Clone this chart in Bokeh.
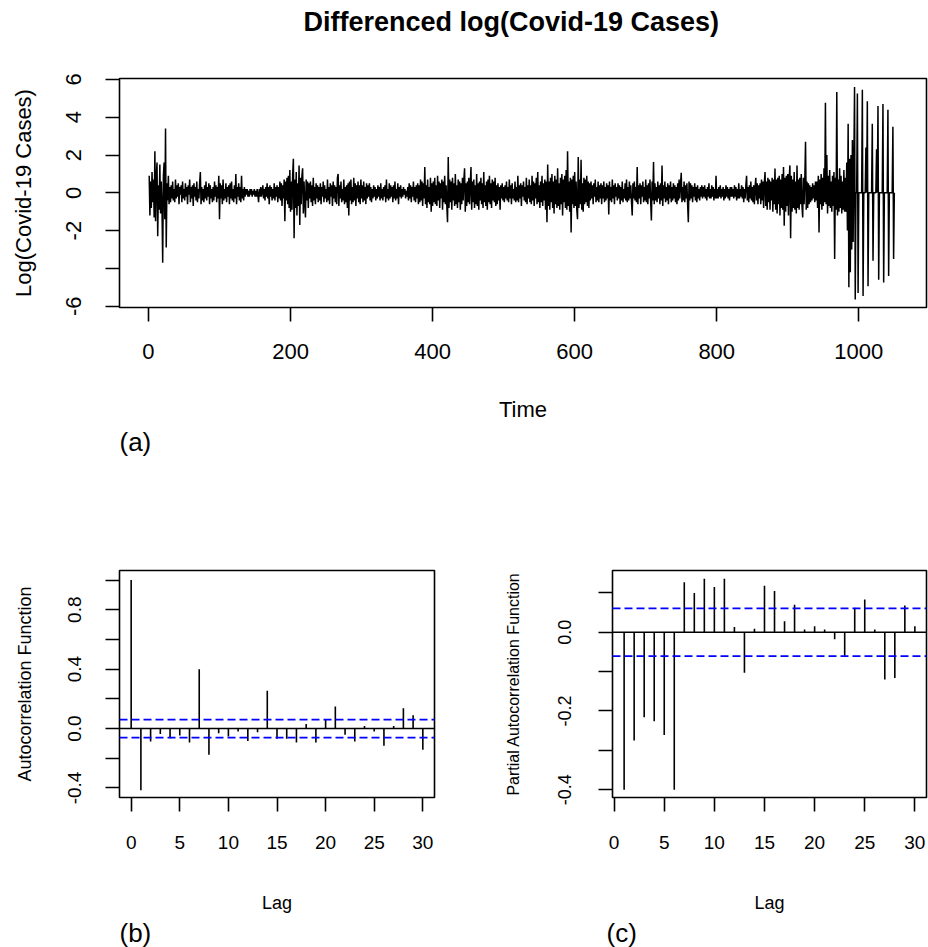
from bokeh.plotting import figure
from bokeh.models import FixedTicker, Span, Title
from bokeh.layouts import column, row
from bokeh.embed import file_html
from bokeh.resources import INLINE

FONT = "Liberation Sans"

# ---- differenced log(Covid-19 cases) ----
diff_t001_200 = [
    0.9, -1.2, 0.6, -0.8, 1.1, -0.5, 0.7, -1.3, 2.2, -1.5, 0.8, 1.6, -2.3, 0.4, -0.9, 1.5, -1.1, 0.6, -0.7, -3.7,
    0.9, 1.6, -1.4, 3.4, -2.9, 0.5, -0.4, 0.9, -0.6, 0.3, -0.5, 0.4, -0.3, 0.6, -0.4, 0.2, -0.5, 0.7, -0.3, 0.4,
    -0.2, 0.5, -0.6, 0.3, -0.1, 0.4, -0.5, 0.6, -0.3, 0.2, -0.4, 0.5, -0.2, 0.3, -0.6, 0.4, -0.1, 0.7, -0.5, 0.3,
    -0.3, 0.4, -0.7, 0.5, -0.2, 0.3, -0.4, 0.6, -0.5, 0.2, -0.3, 0.5, 1.1, -0.6, 0.3, -0.4, 0.2, -0.5, 0.4, -0.3,
    0.6, -0.4, 0.3, -0.2, 0.5, -0.6, 0.4, -0.3, 0.2, -0.5, 0.3, -0.4, 0.6, -0.2, 0.4, -0.5, 0.3, -0.3, 0.9, -1.4,
    0.5, -0.3, 0.4, -0.6, 0.7, -0.4, 0.2, -0.3, 0.5, -0.5, 0.3, -0.2, 0.4, -0.6, 0.5, -0.3, 0.6, -0.4, 0.2, -0.5,
    0.4, -0.3, 1.0, -0.6, 0.3, -0.2, 0.5, -0.4, 0.3, -0.5, 0.9, -0.3, 0.2, -0.4, 0.3, -0.2, 0.2, -0.1, 0.2, -0.2,
    0.1, -0.2, 0.2, -0.1, 0.2, -0.2, 0.1, -0.1, 0.2, -0.2, 0.1, -0.2, 0.2, -0.1, -0.5, 0.2, -0.2, 0.3, -0.2, 0.1,
    0.4, -0.3, 0.2, -0.4, 0.3, -0.2, 0.5, -0.3, 0.3, -0.6, 0.4, -0.2, 0.3, -0.4, 0.2, -0.3, 0.5, -0.4, 0.3, -0.2,
    0.4, -0.5, 0.3, -0.3, 0.6, -0.4, 0.5, -0.7, 0.4, -0.3, 0.7, -1.5, 0.6, -0.4, 0.8, -0.6, 0.9, -0.8, 1.2, -1.0,
]
diff_t201_400 = [
    0.6, -0.9, 1.0, 1.8, -2.4, 0.7, -0.8, 1.1, -1.2, 0.5, -0.7, 1.45, -1.7, 0.8, -0.6, 0.9, 1.3, -1.1, 0.6, -0.5,
    -1.3, 0.7, -0.4, 0.6, -0.8, 0.5, -0.3, 0.6, -0.5, 0.4, -0.7, 0.8, -0.4, 0.3, -0.6, 0.5, -0.3, 0.4, -0.5, 0.3,
    -0.4, 0.5, -0.6, 0.3, -0.2, 0.6, -0.5, 0.4, -0.3, 0.2, -0.5, 0.7, -0.4, 0.3, -0.6, 0.5, -0.2, 0.4, -0.7, 0.6,
    -0.3, 0.4, -0.5, 0.3, -0.6, 0.8, 1.0, -0.7, 0.4, -0.3, 0.6, -0.5, 0.2, -0.4, 0.7, -0.6, 0.3, -0.5, 0.4, -0.8,
    0.5, -1.2, 0.6, -0.4, 0.7, -0.6, 0.3, -0.5, 0.8, -0.4, 0.5, -0.7, 0.4, -0.3, 0.6, -0.5, 0.4, -0.6, 0.7, -0.3,
    0.4, -0.5, 0.6, -0.4, 0.3, -0.6, 0.5, -0.3, 0.4, -0.2, 0.5, -0.4, 0.3, -0.5, 0.2, -0.3, 0.4, -0.2, 0.3, -0.4,
    0.2, -0.3, 0.4, -0.2, 0.3, -0.4, 0.5, -0.3, 0.2, -0.4, 0.3, -0.2, 0.4, -0.5, 0.7, -0.3, 0.2, -0.4, 0.5, -0.3,
    0.4, -0.2, 0.3, -0.5, 0.4, -0.3, 0.6, -0.4, 0.2, -0.3, 0.5, -0.6, 0.3, -0.2, 0.4, -0.3, 0.2, -0.2, 0.3, -0.1,
    0.2, -0.3, 0.1, -0.2, 0.3, -0.4, 0.5, -0.3, 0.4, -0.5, 0.3, -0.2, 0.6, -0.4, 0.3, -0.5, 0.4, -0.3, 0.5, -0.6,
    0.4, -0.5, 0.7, -0.4, 0.6, -0.7, 0.5, -0.3, 1.36, -0.6, 0.4, -0.8, 0.7, -0.5, 0.3, -0.6, 0.8, -1.0, 0.5, -0.7,
]
diff_t401_600 = [
    0.6, -0.5, 0.8, -0.6, 0.4, -0.7, 0.9, -0.4, 0.6, -0.8, 0.5, -0.3, 0.7, -0.9, 0.6, -0.5, 0.9, -0.6, 0.4, -0.7,
    -1.56, 1.9, -0.8, 0.7, -0.5, 0.6, -0.9, 0.8, -0.4, 0.5, -0.7, 1.0, -0.6, 0.4, -0.8, 0.7, -0.5, 0.6, -0.9, 0.5,
    -0.6, 0.8, -0.4, 0.7, 1.3, -1.0, 0.5, -0.7, 0.6, -0.5, 0.8, -0.6, 0.4, 1.36, -0.9, 0.6, -0.5, 0.7, -0.8, 0.4,
    -0.6, 1.0, -0.7, 0.5, -0.9, 0.6, -0.4, 0.8, -0.6, 0.5, -0.8, 1.1, -0.5, 0.4, -0.7, 0.6, -0.9, 0.7, -0.5, 0.9,
    -0.6, 0.5, -0.8, 0.7, -0.4, 0.6, -0.5, 0.8, -0.7, 0.4, -0.6, 0.5, -0.4, 0.3, -0.9, 0.4, -0.3, 0.5, -0.4, 0.3,
    -0.5, 0.4, -0.3, 0.6, -0.4, 0.3, -0.5, 0.7, -0.3, 0.4, -0.6, 0.5, -0.3, 0.2, -0.4, 0.6, -0.5, 0.3, -0.4, 0.9,
    -0.5, 0.4, -0.3, 0.5, -0.7, 0.4, -0.2, 0.6, -0.4, 0.3, -0.5, 0.8, -0.6, 0.4, -0.3, 0.7, -0.5, 0.4, -0.6, 0.9,
    -0.4, 0.6, -0.7, 0.5, -0.3, 0.8, -0.6, 1.1, -0.5, 0.4, -0.8, 0.6, -0.5, 0.9, -0.7, 0.5, -0.4, 0.7, -0.9, 0.6,
    -1.56, 1.5, -0.7, 0.6, -0.9, 0.8, -0.5, 1.0, -0.8, 0.6, -1.1, 0.9, -0.6, 0.7, -0.8, 1.3, -0.7, 0.5, -0.9, 0.8,
    -0.6, 1.0, -1.2, 0.7, -0.5, 0.9, -0.8, 1.2, -0.9, 2.2, -0.7, 0.6, -1.0, 0.8, -2.1, 0.7, -0.6, 0.9, -0.8, 1.1,
]
diff_t601_800 = [
    -0.7, 0.6, -0.9, -1.4, 1.9, -0.8, 0.7, -0.6, 1.75, -0.9, 0.5, -1.0, 0.8, -0.6, 0.7, -0.5, 0.9, -0.7, 0.6, -0.8,
    0.5, -0.4, 0.6, -0.3, 0.4, -0.6, 0.5, -0.2, 0.7, -0.5, 0.3, -0.4, 0.6, -0.5, 0.4, -0.3, 0.5, -0.6, 0.4, -0.3,
    0.6, -0.5, 0.3, -0.4, 0.5, -0.3, 0.4, -1.15, 0.6, -0.4, 0.3, -0.5, 0.7, -0.3, 0.4, -0.6, 0.5, -0.2, 0.3, -0.4,
    0.5, -0.3, 0.4, -0.6, 0.3, -0.4, 0.6, -0.5, 0.2, -0.3, 0.5, -0.4, 0.7, -0.5, 0.3, -0.4, 0.6, -0.3, 0.4, -0.5,
    -1.2, 0.5, -0.3, 0.6, -0.4, 0.3, -0.5, 1.36, -0.6, 0.4, -0.3, 0.5, -0.6, 0.4, -0.2, 0.6, -0.5, 0.3, -0.4, 0.7,
    -0.5, 0.4, -0.6, 0.5, -0.3, 0.7, -0.5, -1.47, 0.6, -0.4, 1.63, -0.6, 0.5, -0.4, 0.3, -0.5, 0.6, -0.3, 0.4, -0.6,
    0.5, -0.4, 1.45, -0.7, 0.4, -0.3, 0.6, -0.5, 0.3, -0.4, 0.5, -0.6, 0.4, -0.3, 0.6, -0.5, 0.3, -0.4, 0.5, -0.3,
    0.4, -0.5, 0.3, -0.6, 0.5, -0.4, 0.7, -0.3, 0.4, 1.06, -0.5, 0.3, -0.4, 0.6, -0.5, 0.4, -0.3, 0.5, -0.6, -1.56,
    0.6, -0.4, 0.5, -0.3, 0.4, -0.5, 0.3, -0.2, 0.5, -0.4, 0.3, -0.5, 0.4, -0.3, 0.2, -0.4, 0.3, -0.2, 0.4, -0.3,
    0.3, -0.2, 0.4, -0.3, 0.2, -0.4, 0.3, -0.2, 0.5, -0.3, 0.2, -0.3, 0.4, -0.2, 0.3, -0.4, 0.2, -0.3, 0.9, -0.3,
]
diff_t801_1000 = [
    0.2, -0.3, 0.3, -0.2, 0.4, -0.3, 0.2, -0.2, 0.3, -0.4, 0.2, -0.3, 0.4, -0.2, 0.3, -0.3, 0.2, -0.4, 0.3, -0.2,
    0.3, -0.2, 0.2, -0.3, 0.4, -0.2, 0.3, -0.4, 0.2, -0.3, 0.5, -0.3, 0.2, -0.2, 0.4, -0.3, 0.3, -0.5, 0.2, -0.3,
    0.4, 0.9, -0.4, 0.3, -0.5, 0.4, -0.3, 0.6, -0.4, 0.3, -0.5, 0.4, -0.6, 0.3, 0.8, -0.4, 0.5, -0.6, 0.4, -0.3,
    0.5, -0.6, 0.7, -0.4, 0.6, -0.8, 0.5, 1.1, -0.7, 0.6, -0.9, 0.8, -0.5, 0.7, -0.9, 0.6, -0.4, 0.8, -1.0, 0.7,
    -0.6, 1.28, -0.9, 0.7, -1.1, 0.8, -0.6, 0.9, -1.2, 0.7, -0.8, 1.0, -0.9, 1.36, -1.74, 0.8, -1.0, 0.9, -0.7, 1.0,
    -1.2, 0.8, 1.45, -2.4, 0.9, -1.0, 0.7, -0.8, 1.1, -0.9, 0.6, -1.1, 1.45, -0.8, 0.7, -0.9, 0.8, -0.6, 1.0, -0.7,
    -1.3, 0.8, -0.6, 0.7, 2.7, -0.9, 0.6, -0.8, 0.5, -0.6, 0.4, -0.5, 0.3, -0.4, 0.5, -0.3, 0.4, -0.5, 0.6, -0.4,
    0.6, -0.8, 0.9, -2.1, 0.7, -0.6, 1.0, -0.9, 0.8, -0.7, 1.3, -0.5, 4.77, -0.6, 2.0, -1.1, 0.9, -0.7, 1.2, -0.8,
    0.6, -1.0, 0.9, -0.7, 1.1, -3.5, 0.8, -0.9, 5.34, -1.2, 0.7, -1.0, 1.3, -0.8, 0.9, -1.1, 0.6, -0.9, 1.2, -1.0,
    0.8, -1.0, 1.6, -2.0, 3.65, -5.0, 1.8, -4.2, 2.0, -3.0, 2.8, -2.6, 1.5, 5.6, -5.65, 0, 0, 5.25, -5.3, 0,
]
diff_t1001_1050 = [
    0, 0, 0, 0, 5.45, -5.46, 0, 0, 0, 2.4, 0, 4.85, -4.95, 0, 0, 0, 0, 0, 3.65, -3.6,
    0, 0, 0, 0, 2.3, 0, 4.6, -4.6, 0, 0, 0, 0, 0, 4.7, -4.75, 0, 0, 0, 0, 0,
    4.4, -4.4, 0, 0, 0, 0, 0, 3.5, -3.5, 0,
]
diff_log_cases = (diff_t001_200 + diff_t201_400 + diff_t401_600
                  + diff_t601_800 + diff_t801_1000 + diff_t1001_1050)
time_index = list(range(1, len(diff_log_cases) + 1))

# ---- sample ACF (lags 0..30) and PACF (lags 1..30) ----
acf_lags = list(range(0, 31))
acf_values = [1.0, -0.415, -0.087, -0.036, -0.065, -0.047, -0.094, 0.40, -0.177, -0.031,
              -0.054, -0.02, -0.083, -0.025, 0.255, -0.069, -0.069, -0.094, 0.03, -0.094,
              0.058, 0.148, -0.042, -0.087, 0.018, -0.02, -0.116, 0.018, 0.136, 0.089, -0.143]
pacf_lags = list(range(1, 31))
pacf_values = [-0.40, -0.275, -0.216, -0.226, -0.261, -0.40, 0.127, 0.100, 0.136, 0.115,
               0.136, 0.0135, -0.103, 0.009, 0.118, 0.105, 0.028, 0.07, 0.007, 0.015,
               0.007, -0.018, -0.06, 0.062, 0.083, 0.007, -0.12, -0.116, 0.068, 0.015]
ci_bound = 1.96 / len(diff_log_cases) ** 0.5

# tick labels
time_ticks = [0, 200, 400, 600, 800, 1000]
value_ticks = [-6, -4, -2, 0, 2, 4, 6]
value_tick_labels = {-6: "-6", -4: "", -2: "-2", 0: "0", 2: "2", 4: "4", 6: "6"}
lag_ticks = [0, 5, 10, 15, 20, 25, 30]
acf_ticks = [-0.4, -0.2, 0.0, 0.2, 0.4, 0.6, 0.8, 1.0]
acf_tick_labels = {-0.4: "-0.4", -0.2: "", 0.0: "0.0", 0.2: "", 0.4: "0.4", 0.6: "", 0.8: "0.8", 1.0: ""}
pacf_ticks = [-0.4, -0.3, -0.2, -0.1, 0.0, 0.1]
pacf_tick_labels = {-0.4: "-0.4", -0.3: "", -0.2: "-0.2", -0.1: "", 0.0: "0.0", 0.1: ""}


def style(p, tick_size, label_size):
    p.outline_line_color = "black"
    p.outline_line_width = 1.6
    p.grid.visible = False
    p.background_fill_color = "white"
    p.border_fill_color = "white"
    for ax in p.axis:
        ax.axis_line_color = None
        ax.major_tick_in = 0
        ax.major_tick_out = 14
        ax.major_tick_line_width = 1.6
        ax.major_tick_line_color = "black"
        ax.minor_tick_line_color = None
        ax.major_label_text_font = FONT
        ax.major_label_text_font_size = tick_size
        ax.major_label_text_color = "black"
        ax.axis_label_text_font = FONT
        ax.axis_label_text_font_style = "normal"
        ax.axis_label_text_color = "black"
        ax.axis_label_text_font_size = label_size


def panel_tag(p, text, offset, standoff):
    p.add_layout(Title(text=text, align="left", offset=offset, standoff=standoff,
                       text_font=FONT, text_font_size="26px", text_font_style="normal",
                       text_color="black"), "below")


# ---- (a) time series ----
top = figure(width=928, height=470, x_range=(-40.8, 1095.3), y_range=(-6.07, 6.05),
             output_backend="svg", toolbar_location=None,
             min_border_left=119, min_border_right=2, min_border_top=78, min_border_bottom=163)
top.title = Title(text="Differenced log(Covid-19 Cases)", align="left", offset=184, standoff=0,
                  text_font=FONT, text_font_size="27px", text_font_style="bold", text_color="black")
# blank spacer between the title and the frame, as in the original layout
top.add_layout(Title(text=" ", text_font=FONT, text_font_size="27px", standoff=10), "above")
top.line(time_index, diff_log_cases, line_color="black", line_width=1.5)
style(top, "22px", "22px")
top.xaxis.ticker = FixedTicker(ticks=time_ticks)
top.yaxis.ticker = FixedTicker(ticks=value_ticks)
top.yaxis.major_label_overrides = value_tick_labels
top.yaxis.major_label_orientation = "vertical"
top.xaxis.axis_label = "Time"
top.yaxis.axis_label = "Log(Covid-19 Cases)"
top.xaxis.major_label_standoff = 22
top.xaxis.axis_label_standoff = 35
top.yaxis.major_label_standoff = 24
top.yaxis.axis_label_standoff = 28
panel_tag(top, "(a)", 0, 0)

# ---- (b) ACF ----
acf = figure(width=490, height=477, x_range=(-1.2, 31.2), y_range=(-0.464, 1.064),
             output_backend="svg", toolbar_location=None,
             min_border_left=119, min_border_right=56, min_border_top=100, min_border_bottom=149)
acf.segment(x0=acf_lags, y0=[0] * len(acf_lags), x1=acf_lags, y1=acf_values,
            line_color="black", line_width=1.6)
acf.add_layout(Span(location=0, dimension="width", line_color="black", line_width=1.6))
for b in (ci_bound, -ci_bound):
    acf.add_layout(Span(location=b, dimension="width", line_color="blue",
                        line_width=1.8, line_dash="8 4"))
style(acf, "19px", "18px")
acf.xaxis.ticker = FixedTicker(ticks=lag_ticks)
acf.yaxis.ticker = FixedTicker(ticks=acf_ticks)
acf.yaxis.major_label_overrides = acf_tick_labels
acf.yaxis.major_label_orientation = "vertical"
acf.xaxis.axis_label = "Lag"
acf.yaxis.axis_label = "Autocorrelation Function"
acf.xaxis.major_label_standoff = 24
acf.xaxis.axis_label_standoff = 41
acf.yaxis.major_label_standoff = 24
acf.yaxis.axis_label_standoff = 31
panel_tag(acf, "(b)", 0, 0)

# ---- (c) PACF ----
pacf = figure(width=438, height=477, x_range=(-0.16, 31.16), y_range=(-0.42, 0.157),
              output_backend="svg", toolbar_location=None,
              min_border_left=122, min_border_right=2, min_border_top=100, min_border_bottom=149)
pacf.segment(x0=pacf_lags, y0=[0] * len(pacf_lags), x1=pacf_lags, y1=pacf_values,
             line_color="black", line_width=1.6)
pacf.add_layout(Span(location=0, dimension="width", line_color="black", line_width=1.6))
for b in (ci_bound, -ci_bound):
    pacf.add_layout(Span(location=b, dimension="width", line_color="blue",
                         line_width=1.8, line_dash="8 4"))
style(pacf, "18px", "16px")
pacf.xaxis.ticker = FixedTicker(ticks=lag_ticks)
pacf.xaxis.major_label_text_font_size = "19px"
pacf.xaxis.axis_label_text_font_size = "18px"
pacf.yaxis.ticker = FixedTicker(ticks=pacf_ticks)
pacf.yaxis.major_label_overrides = pacf_tick_labels
pacf.yaxis.major_label_orientation = "vertical"
pacf.xaxis.axis_label = "Lag"
pacf.yaxis.axis_label = "Partial Autocorrelation Function"
pacf.xaxis.major_label_standoff = 24
pacf.xaxis.axis_label_standoff = 41
pacf.yaxis.major_label_standoff = 27
pacf.yaxis.axis_label_standoff = 34
panel_tag(pacf, "(c)", -6, 0)

layout = column(top, row(acf, pacf))
open("out.html", "w").write(file_html(layout, INLINE))
